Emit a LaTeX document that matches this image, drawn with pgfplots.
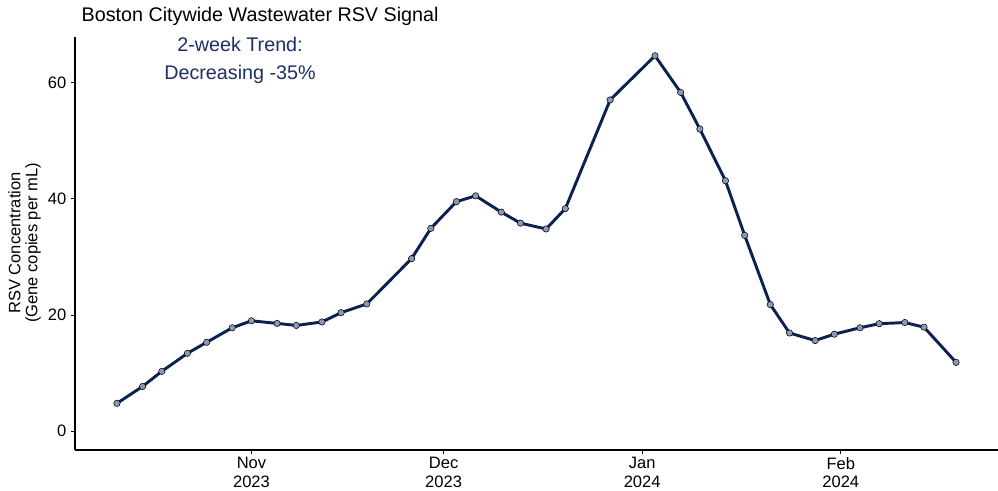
\documentclass[border=0pt]{standalone}
\usepackage{pgfplots}
\pgfplotsset{compat=1.18}
\usepackage{fontspec}
\setmainfont{Liberation Sans}
\definecolor{navy}{HTML}{0B2152}
\definecolor{annot}{HTML}{1C2F66}
\definecolor{ptfill}{HTML}{8C98B4}
\pgfplotstableread{
day value
-21 4.8
-17 7.7
-14 10.3
-10 13.4
-7 15.3
-3 17.8
0 19.0
4 18.55
7 18.2
11 18.8
14 20.4
18 21.9
25 29.7
28 34.9
32 39.5
35 40.5
39 37.7
42 35.8
46 34.8
49 38.3
56 57.0
63 64.6
67 58.3
70 52.0
74 43.1
77 33.7
81 21.8
84 16.9
88 15.6
91 16.7
95 17.8
98 18.5
102 18.7
105 17.9
110 11.85
}\rsv
\begin{document}
\begin{tikzpicture}
\useasboundingbox (0,0) rectangle (748.5pt,368.25pt);
% days counted from 1 Nov 2023
\begin{axis}[
  at={(56.25pt,30.75pt)}, anchor=south west,
  scale only axis, width=692.25pt, height=309.75pt,
  xmin=-27.55, xmax=116.55, ymin=-3.23, ymax=67.83,
  axis lines=left,
  axis line style={-, black, line width=0.8pt},
  tick align=outside,
  major tick length=3pt,
  tick style={black, line width=0.7pt},
  xtick={0,30,61,92},
  xticklabels={Nov\\2023,Dec\\2023,Jan\\2024,Feb\\2024},
  xticklabel style={align=center, font=\fontsize{12.4}{13.8}\selectfont, yshift=1pt},
  ytick={0,20,40,60},
  yticklabel style={font=\fontsize{12.4}{14.25}\selectfont},
  /pgf/number format/assume math mode=true,
  clip=false,
]
\addplot[only marks, mark=*, mark size=2.4pt,
  mark options={draw=none, fill=ptfill}] table[x=day, y=value] {\rsv};
\addplot[navy, line width=2.2pt, no marks] table[x=day, y=value] {\rsv};
\end{axis}
\node[anchor=base west, font=\fontsize{14.8}{17}\selectfont] at (57.75pt,351.75pt) {Boston Citywide Wastewater RSV Signal};
\node[anchor=base, text=annot, font=\fontsize{14.8}{17}\selectfont] at (180pt,329.25pt) {2-week Trend:};
\node[anchor=base, text=annot, font=\fontsize{14.8}{17}\selectfont] at (180pt,308.25pt) {Decreasing -35\%};
\node[rotate=90, align=center, font=\fontsize{12.4}{12.75}\selectfont] at (18.4pt,186pt) {RSV Concentration\\(Gene copies per mL)};
\end{tikzpicture}
\end{document}
